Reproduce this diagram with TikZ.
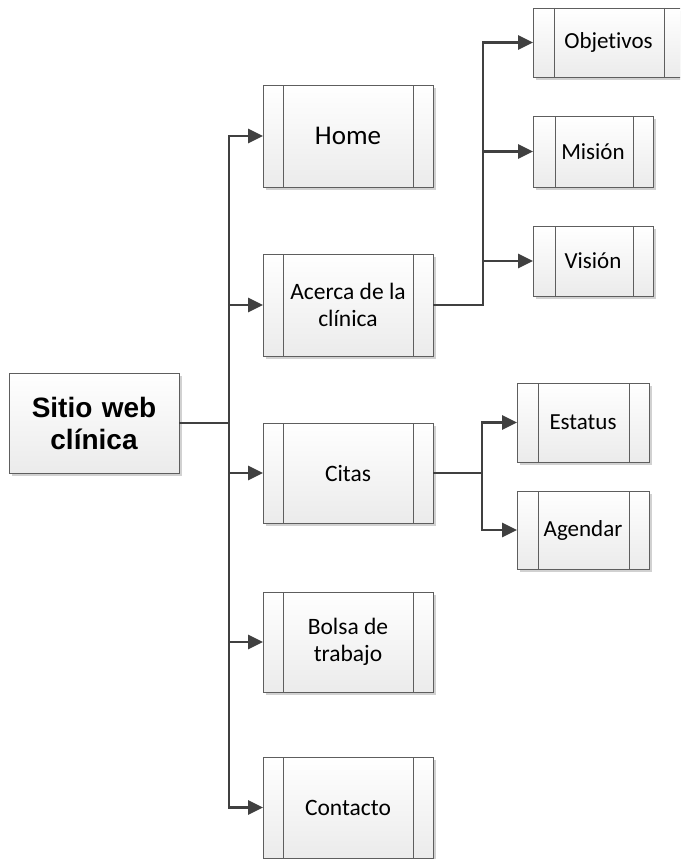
\documentclass[tikz,border=0pt]{standalone}
\usepackage{fontspec}
\setmainfont{Carlito}[Ligatures=NoCommon]
\newfontfamily\rootfont{Liberation Sans}
\usetikzlibrary{arrows.meta,shadows}
\definecolor{linec}{HTML}{404040}
\definecolor{borderc}{HTML}{5E5E5E}
\definecolor{fillbot}{HTML}{EBEBEB}
\tikzset{
  box/.style={rectangle, draw=borderc, line width=0.9pt, inner sep=0pt,
    top color=white, bottom color=fillbot, align=center,
    drop shadow={shadow xshift=3pt, shadow yshift=-3pt, fill=black!18, opacity=1}},
  sidebox/.style 2 args={box, path picture={
    \draw[borderc, line width=0.9pt]
      ([xshift=#1]path picture bounding box.north west) -- ([xshift=#1]path picture bounding box.south west)
      ([xshift=-#2]path picture bounding box.north east) -- ([xshift=-#2]path picture bounding box.south east);}},
  lvlone/.style={sidebox={20pt}{20pt}, minimum width=170pt, font=\fontsize{23.5}{27}\selectfont},
  lvltwo/.style={sidebox={21pt}{20pt}, font=\fontsize{23}{27}\selectfont},
  conn/.style={draw=linec, line width=2.8pt},
  vline/.style={conn, line cap=rect},
  arr/.style={conn, -{Triangle[length=15pt,width=14pt]}, shorten >=-0.5pt},
}
\begin{document}
\begin{tikzpicture}[x=1pt,y=-1pt]
\useasboundingbox (0,0) rectangle (680,859);
\clip (0,0) rectangle (680,859);
\fill[white] (0,0) rectangle (680,859);

\node[box, minimum width=170pt, minimum height=100pt, text width=160pt,
  font=\rootfont\bfseries\fontsize{28}{32}\selectfont] (root) at (94,423) {Sitio web\\clínica};

\node[lvlone, minimum height=102pt, font=\fontsize{27}{30}\selectfont] (home) at (348,136) {Home};
\node[lvlone, minimum height=102pt] (acerca) at (348,305) {Acerca de la\\clínica};
\node[lvlone, minimum height=100pt] (citas) at (348,473) {Citas};
\node[lvlone, minimum height=100pt] (bolsa) at (348,642) {Bolsa de\\trabajo};
\node[lvlone, minimum height=101pt] (contacto) at (348,807.5) {Contacto};

\node[lvltwo, minimum width=151pt, minimum height=69pt] (objetivos) at (608.5,42.5) {Objetivos};
\node[lvltwo, sidebox={22pt}{20pt}, minimum width=120pt, minimum height=71pt] (mision) at (593,151.5) {Misión};
\node[lvltwo, sidebox={22pt}{20pt}, minimum width=120pt, minimum height=70pt] (vision) at (593,261) {Visión};
\node[lvltwo, minimum width=132pt, minimum height=79pt] (estatus) at (583,422.5) {Estatus};
\node[lvltwo, minimum width=132pt, minimum height=78pt] (agendar) at (583,530) {Agendar};

% main trunk
\coordinate (t) at (229,423);
\draw[conn] (root.east) -- (t);
\draw[vline] (t |- home.west) -- (t |- contacto.west);
\foreach \n in {home,acerca,citas,bolsa,contacto}
  \draw[arr] (t |- \n.west) -- (\n.west);

% acerca branch
\coordinate (a) at (483,305);
\draw[conn] (acerca.east) -- (a);
\draw[vline] (a |- objetivos.west) -- (a);
\foreach \n in {objetivos,mision,vision}
  \draw[arr] (a |- \n.west) -- (\n.west);

% citas branch
\coordinate (c) at (482,473);
\draw[conn] (citas.east) -- (c);
\draw[vline] (c |- estatus.west) -- (c |- agendar.west);
\foreach \n in {estatus,agendar}
  \draw[arr] (c |- \n.west) -- (\n.west);
\end{tikzpicture}
\end{document}
